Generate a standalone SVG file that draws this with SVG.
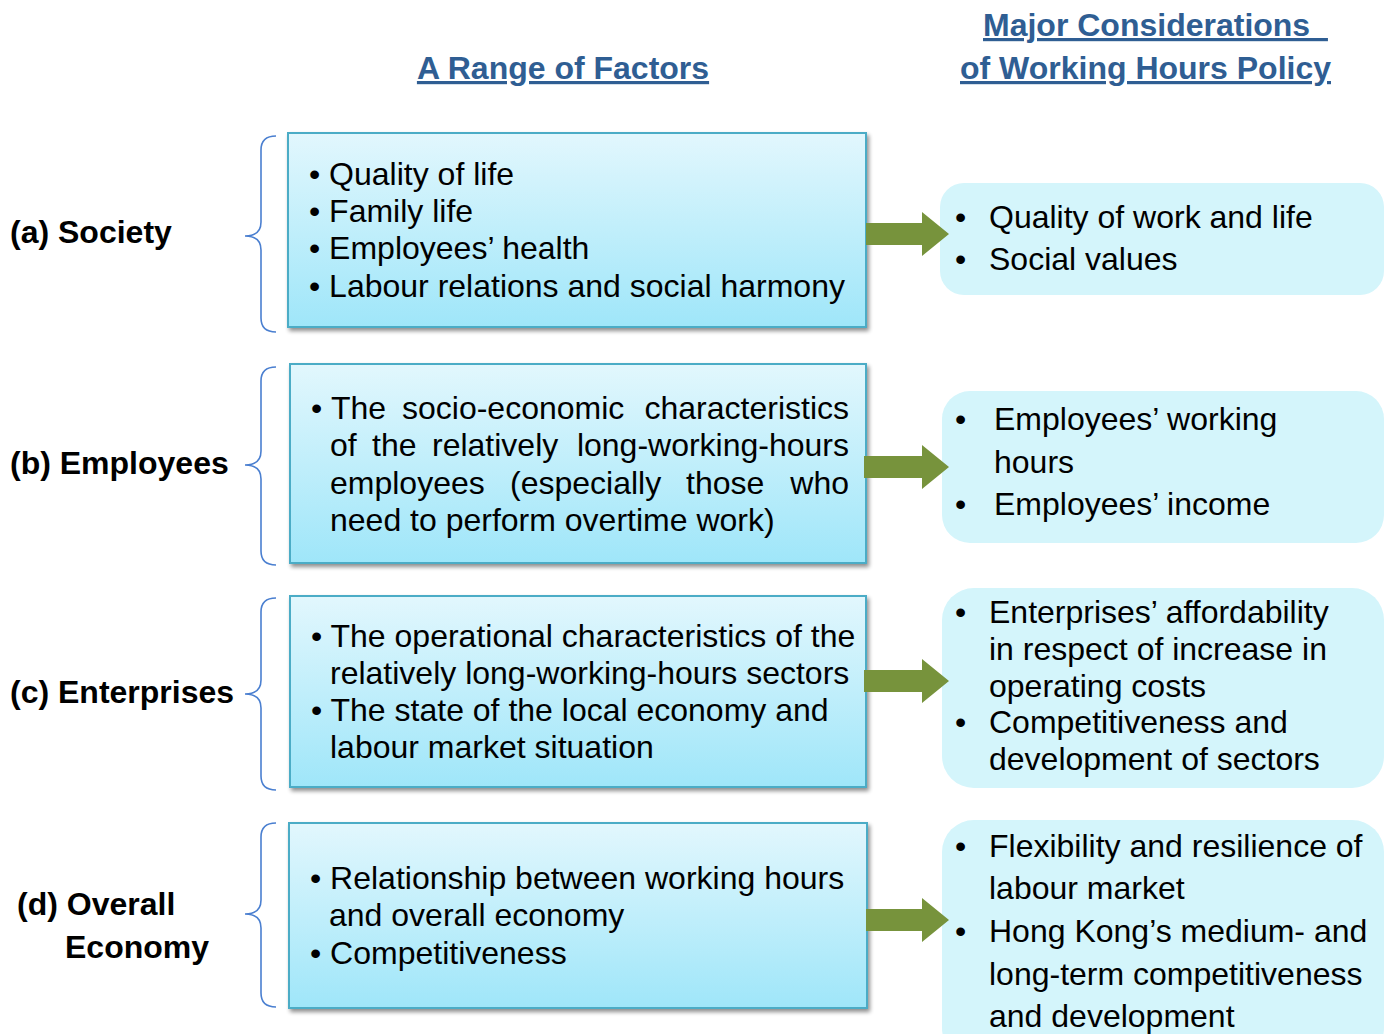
<svg xmlns="http://www.w3.org/2000/svg" width="1389" height="1034" viewBox="0 0 1389 1034">
<style>
.t{font-family:"Liberation Sans",Arial,sans-serif;font-size:32px;fill:#000}
.lbl{font-family:"Liberation Sans",Arial,sans-serif;font-size:32px;font-weight:bold;fill:#000}
.ttl{font-family:"Liberation Sans",Arial,sans-serif;font-size:32px;font-weight:bold;fill:#2F5E93;text-decoration:underline}
.box{fill:url(#g);stroke:#4BACC6;stroke-width:2;filter:url(#sh)}
.rbox{fill:#D4F5FB}
.brace{fill:none;stroke:#4A7FD0;stroke-width:1.6}
.arr{fill:#77933C}
</style>
<defs>
<linearGradient id="g" x1="0" y1="0" x2="0" y2="1">
<stop offset="0" stop-color="#E2F7FD"/>
<stop offset="1" stop-color="#9FE6F9"/>
</linearGradient>
<filter id="sh" x="-5%" y="-5%" width="110%" height="115%">
<feGaussianBlur in="SourceAlpha" stdDeviation="2"/>
<feOffset dx="2" dy="3" result="o"/>
<feComponentTransfer><feFuncA type="linear" slope="0.45"/></feComponentTransfer>
<feMerge><feMergeNode/><feMergeNode in="SourceGraphic"/></feMerge>
</filter>
</defs>
<rect width="1389" height="1034" fill="#fff"/>

<g id="titles">
<text class="ttl" x="563" y="79" text-anchor="middle">A Range of Factors</text>
<text class="ttl" x="983" y="36" xml:space="preserve">Major Considerations  </text>
<text class="ttl" x="960" y="79">of Working Hours Policy</text>
</g>

<g id="labels">
<text class="lbl" x="10" y="243">(a) Society</text>
<text class="lbl" x="10" y="474">(b) Employees</text>
<text class="lbl" x="10" y="703">(c) Enterprises</text>
<text class="lbl" x="17" y="915">(d) Overall</text>
<text class="lbl" x="65" y="958">Economy</text>
</g>

<g id="braces">
<path class="brace" d="M276,136 Q261,136 261,150 L261,222 Q261,236 245,236 Q261,236 261,250 L261,318 Q261,332 276,332"/>
<path class="brace" d="M276,367 Q261,367 261,381 L261,451 Q261,465 245,465 Q261,465 261,479 L261,551 Q261,565 276,565"/>
<path class="brace" d="M276,598 Q261,598 261,612 L261,680 Q261,694 245,694 Q261,694 261,708 L261,776 Q261,790 276,790"/>
<path class="brace" d="M276,823 Q261,823 261,837 L261,900 Q261,914 245,914 Q261,914 261,928 L261,993 Q261,1007 276,1007"/>
</g>

<g id="factor-a">
<rect class="box" x="288" y="133" width="578" height="194"/>
<text class="t" x="309" y="185">• Quality of life</text>
<text class="t" x="309" y="222">• Family life</text>
<text class="t" x="309" y="259">• Employees’ health</text>
<text class="t" x="309" y="297">• Labour relations and social harmony</text>
</g>

<g id="factor-b">
<rect class="box" x="290" y="364" width="576" height="199"/>
<text class="t" x="311" y="419">•</text>
<text class="t" y="419"><tspan x="331">The</tspan><tspan x="402">socio-economic</tspan><tspan x="849" text-anchor="end">characteristics</tspan></text>
<text class="t" y="456"><tspan x="330">of</tspan><tspan x="372">the</tspan><tspan x="432">relatively</tspan><tspan x="849" text-anchor="end">long-working-hours</tspan></text>
<text class="t" y="494"><tspan x="330">employees</tspan><tspan x="510">(especially</tspan><tspan x="686">those</tspan><tspan x="849" text-anchor="end">who</tspan></text>
<text class="t" x="330" y="531">need to perform overtime work)</text>
</g>

<g id="factor-c">
<rect class="box" x="290" y="596" width="576" height="191"/>
<text class="t" x="311" y="647">• The operational characteristics of the</text>
<text class="t" x="330" y="684">relatively long-working-hours sectors</text>
<text class="t" x="311" y="721">• The state of the local economy and</text>
<text class="t" x="330" y="758">labour market situation</text>
</g>

<g id="factor-d">
<rect class="box" x="289" y="823" width="578" height="185"/>
<text class="t" x="310" y="889">• Relationship between working hours</text>
<text class="t" x="329" y="926">and overall economy</text>
<text class="t" x="310" y="964">• Competitiveness</text>
</g>

<g id="consider-a">
<rect class="rbox" x="940" y="183" width="444" height="112" rx="24"/>
<text class="t" x="955" y="228">•</text>
<text class="t" x="989" y="228">Quality of work and life</text>
<text class="t" x="955" y="270">•</text>
<text class="t" x="989" y="270">Social values</text>
</g>

<g id="consider-b">
<rect class="rbox" x="942" y="391" width="442" height="152" rx="28"/>
<text class="t" x="955" y="430">•</text>
<text class="t" x="994" y="430">Employees’ working</text>
<text class="t" x="994" y="473">hours</text>
<text class="t" x="955" y="515">•</text>
<text class="t" x="994" y="515">Employees’ income</text>
</g>

<g id="consider-c">
<rect class="rbox" x="942" y="588" width="442" height="200" rx="32"/>
<text class="t" x="955" y="623">•</text>
<text class="t" x="989" y="623">Enterprises’ affordability</text>
<text class="t" x="989" y="660">in respect of increase in</text>
<text class="t" x="989" y="697">operating costs</text>
<text class="t" x="955" y="733">•</text>
<text class="t" x="989" y="733">Competitiveness and</text>
<text class="t" x="989" y="770">development of sectors</text>
</g>

<g id="consider-d">
<rect class="rbox" x="942" y="820" width="442" height="240" rx="32"/>
<text class="t" x="955" y="857">•</text>
<text class="t" x="989" y="857">Flexibility and resilience of</text>
<text class="t" x="989" y="899">labour market</text>
<text class="t" x="955" y="942">•</text>
<text class="t" x="989" y="942">Hong Kong’s medium- and</text>
<text class="t" x="989" y="985">long-term competitiveness</text>
<text class="t" x="989" y="1027">and development</text>
</g>

<g id="connectors">
<polygon class="arr" points="866,223 922,223 922,212 949,234 922,256 922,245 866,245"/>
<polygon class="arr" points="864,456 922,456 922,445 949,467 922,489 922,478 864,478"/>
<polygon class="arr" points="864,670 922,670 922,659 949,681 922,703 922,692 864,692"/>
<polygon class="arr" points="866,909 922,909 922,898 949,920 922,942 922,931 866,931"/>
</g>
</svg>
